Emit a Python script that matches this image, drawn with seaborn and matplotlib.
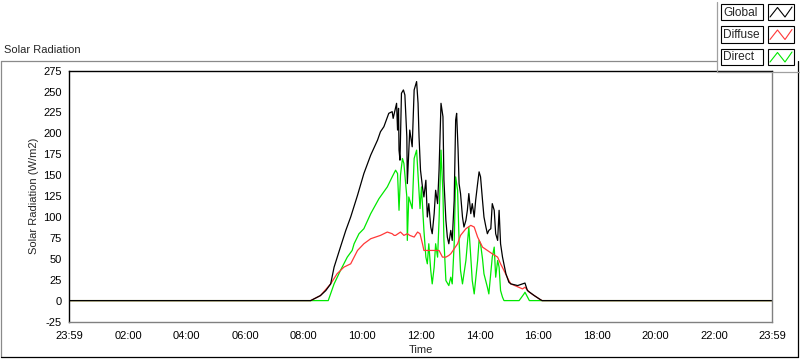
import matplotlib
matplotlib.use("Agg")
import matplotlib.pyplot as plt
from matplotlib.lines import Line2D
from matplotlib.patches import Rectangle
import numpy as np
import pandas as pd
import seaborn as sns

W, H = 800, 361

SERIES_NAMES = ["Global", "Diffuse", "Direct"]
DRAW_ORDER = ["Direct", "Diffuse", "Global"]
SERIES_COLORS = {"Global": "#000000", "Diffuse": "#ff3838", "Direct": "#00e800"}

global_time = [
    "00:00", "08:14", "08:34", "08:45", "08:55", "09:02", "09:15", "09:26", "09:36", "09:50",
    "10:03", "10:17", "10:31", "10:37", "10:44", "10:54", "11:01", "11:03", "11:10", "11:12",
    "11:14", "11:15", "11:17", "11:20", "11:24", "11:27", "11:31", "11:32", "11:37", "11:42",
    "11:46", "11:51", "11:54", "11:56", "11:59", "12:03", "12:06", "12:10", "12:13", "12:16",
    "12:20", "12:23", "12:27", "12:30", "12:34", "12:37", "12:41", "12:45", "12:47", "12:51",
    "12:54", "12:57", "13:01", "13:04", "13:08", "13:11", "13:13", "13:16", "13:18", "13:21",
    "13:25", "13:28", "13:32", "13:35", "13:38", "13:42", "13:45", "13:49", "13:52", "13:56",
    "13:59", "14:02", "14:06", "14:09", "14:13", "14:16", "14:19", "14:23", "14:26", "14:30",
    "14:33", "14:37", "14:40", "14:43", "14:47", "14:54", "15:00", "15:04", "15:18", "15:28",
    "15:33", "15:38", "15:52", "16:05", "16:08", "23:59",
]
global_vals = [
    0, 0, 6, 12, 20, 40, 64, 84, 100, 126,
    152, 174, 192, 202, 208, 224, 226, 218, 236, 204,
    230, 180, 168, 248, 252, 246, 196, 140, 204, 184,
    252, 262, 236, 196, 156, 136, 124, 144, 100, 116,
    88, 80, 104, 132, 116, 156, 236, 220, 144, 96,
    76, 68, 84, 72, 120, 216, 224, 180, 140, 128,
    100, 88, 96, 108, 128, 104, 116, 100, 120, 140,
    154, 148, 120, 100, 88, 80, 84, 86, 116, 108,
    80, 72, 108, 68, 52, 32, 22, 20, 18, 20,
    21, 12, 6, 1, 0, 0,
]

diffuse_time = [
    "00:00", "08:14", "08:34", "08:55", "09:08", "09:22", "09:36", "09:50", "10:03", "10:17",
    "10:37", "10:51", "11:01", "11:05", "11:08", "11:18", "11:25", "11:32", "11:37", "11:46",
    "11:53", "11:58", "12:03", "12:06", "12:37", "12:44", "12:51", "12:57", "13:01", "13:15",
    "13:21", "13:32", "13:42", "13:49", "13:56", "14:06", "14:16", "14:26", "14:37", "14:43",
    "14:50", "15:00", "15:04", "15:28", "15:33", "15:42", "15:52", "16:05", "16:08", "23:59",
]
diffuse_vals = [
    0, 0, 6, 20, 32, 40, 44, 60, 68, 74,
    78, 82, 80, 78, 78, 82, 78, 80, 78, 76,
    82, 80, 68, 60, 60, 52, 52, 54, 56, 68,
    78, 86, 90, 88, 76, 64, 60, 56, 52, 44,
    36, 24, 20, 14, 16, 10, 6, 1, 0, 0,
]

direct_time = [
    "00:00", "08:50", "09:02", "09:15", "09:29", "09:39", "09:43", "09:53", "10:03", "10:17",
    "10:34", "10:51", "11:01", "11:08", "11:12", "11:15", "11:18", "11:22", "11:25", "11:31",
    "11:32", "11:35", "11:42", "11:46", "11:51", "11:54", "11:58", "12:01", "12:06", "12:10",
    "12:13", "12:16", "12:20", "12:23", "12:27", "12:30", "12:34", "12:37", "12:41", "12:45",
    "12:47", "12:51", "12:57", "13:01", "13:04", "13:08", "13:11", "13:15", "13:18", "13:21",
    "13:25", "13:32", "13:38", "13:42", "13:45", "13:49", "13:56", "13:59", "14:02", "14:06",
    "14:09", "14:16", "14:19", "14:26", "14:30", "14:33", "14:37", "14:40", "14:43", "14:47",
    "14:50", "15:21", "15:31", "15:33", "15:42", "23:59",
]
direct_vals = [
    0, 0, 20, 36, 52, 60, 68, 80, 86, 104,
    122, 136, 148, 156, 152, 108, 150, 170, 164, 124,
    72, 124, 110, 170, 180, 150, 110, 136, 84, 52,
    44, 68, 36, 20, 40, 68, 52, 96, 180, 128,
    72, 24, 18, 28, 20, 68, 148, 132, 72, 36,
    20, 48, 88, 52, 24, 8, 48, 72, 68, 50,
    32, 16, 8, 52, 64, 28, 48, 40, 12, 4,
    0, 0, 8, 10, 0, 0,
]

x_tick_labels = ["23:59", "02:00", "04:00", "06:00", "08:00", "10:00", "12:00",
                 "14:00", "16:00", "18:00", "20:00", "22:00", "23:59"]
y_ticks = [-25, 0, 25, 50, 75, 100, 125, 150, 175, 200, 225, 250, 275]


def to_hours(stamps):
    return [int(s[:2]) + int(s[3:]) / 60 for s in stamps]


def fx(px):
    return px / W


def fy(py):
    return 1 - py / H


frames = []
for name, times, vals in [("Global", global_time, global_vals),
                          ("Diffuse", diffuse_time, diffuse_vals),
                          ("Direct", direct_time, direct_vals)]:
    frames.append(pd.DataFrame({"hour": to_hours(times), "value": vals, "series": name}))
df = pd.concat(frames, ignore_index=True)

sns.set_theme(style="white")
plt.rcParams["font.family"] = ["Liberation Sans", "DejaVu Sans"]
FS = 8

fig = plt.figure(figsize=(W / 100, H / 100), dpi=100)
fig.patch.set_facecolor("white")
ax = fig.add_axes([fx(69), fy(321.5), fx(772) - fx(69), fy(70.7) - fy(321.5)])

# direct drawn first so the global trace sits on top, as in the source
sns.lineplot(data=df, x="hour", y="value", hue="series", hue_order=DRAW_ORDER,
             palette=SERIES_COLORS, estimator=None, sort=False, legend=False,
             linewidth=0.9, ax=ax)

x0, x1 = -1 / 60, 23 + 59 / 60
ax.set_xlim(x0, x1)
ax.set_ylim(-25, 275)
ax.set_xticks([x0] + list(range(2, 23, 2)) + [x1])
ax.set_xticklabels(x_tick_labels)
ax.set_xticks(np.arange(0, 24, 0.2), minor=True)
ax.set_yticks(y_ticks)
ax.set_yticklabels([str(v) for v in y_ticks])
ax.tick_params(axis="both", which="both", direction="out", colors="black",
               labelsize=FS, width=0.8)
ax.tick_params(axis="x", which="major", length=4.5, pad=2)
ax.tick_params(axis="x", which="minor", length=2.5)
ax.tick_params(axis="y", which="major", length=3.5, pad=1.5)
ax.set_xlabel("Time", fontsize=FS, labelpad=3)
ax.set_ylabel("Solar Radiation (W/m2)", fontsize=FS, labelpad=3)

for side in ["left", "top"]:
    ax.spines[side].set_color("black")
    ax.spines[side].set_linewidth(1.0)
for side in ["right", "bottom"]:
    ax.spines[side].set_color("#808080")
    ax.spines[side].set_linewidth(1.0)

# outer panel frame
frame_lines = [
    ((0.5, 0.5), (61, 357), "#8a8a8a"),
    ((0.5, 717), (61, 61), "#8a8a8a"),
    ((798, 798), (61, 357), "#000000"),
    ((0.5, 798), (357, 357), "#000000"),
    ((717, 717), (2, 72), "#a0a0a0"),
    ((717, 800), (72, 72), "#a0a0a0"),
]
for xs, ys, c in frame_lines:
    fig.add_artist(Line2D([fx(v) for v in xs], [fy(v) for v in ys], color=c, lw=0.9))

fig.text(fx(4), fy(50), "Solar Radiation", fontsize=FS, ha="left", va="center")

# legend panel: boxed label + boxed line sample
for i, name in enumerate(SERIES_NAMES):
    top = 4 + i * 22.5
    fig.add_artist(Rectangle((fx(721), fy(top + 16)), fx(763) - fx(721), fy(top) - fy(top + 16),
                             transform=fig.transFigure, fill=False, ec="black", lw=0.8))
    fig.add_artist(Rectangle((fx(768), fy(top + 16)), fx(794) - fx(768), fy(top) - fy(top + 16),
                             transform=fig.transFigure, fill=False, ec="black", lw=0.8))
    fig.text(fx(723), fy(top + 8.5), name, fontsize=8.6, ha="left", va="center")
    zx = [770, 777.5, 785, 792]
    zy = [top + 13, top + 3.5, top + 13, top + 3]
    fig.add_artist(Line2D([fx(v) for v in zx], [fy(v) for v in zy],
                          color=SERIES_COLORS[name], lw=0.8))

fig.savefig("out.png", dpi=100)
